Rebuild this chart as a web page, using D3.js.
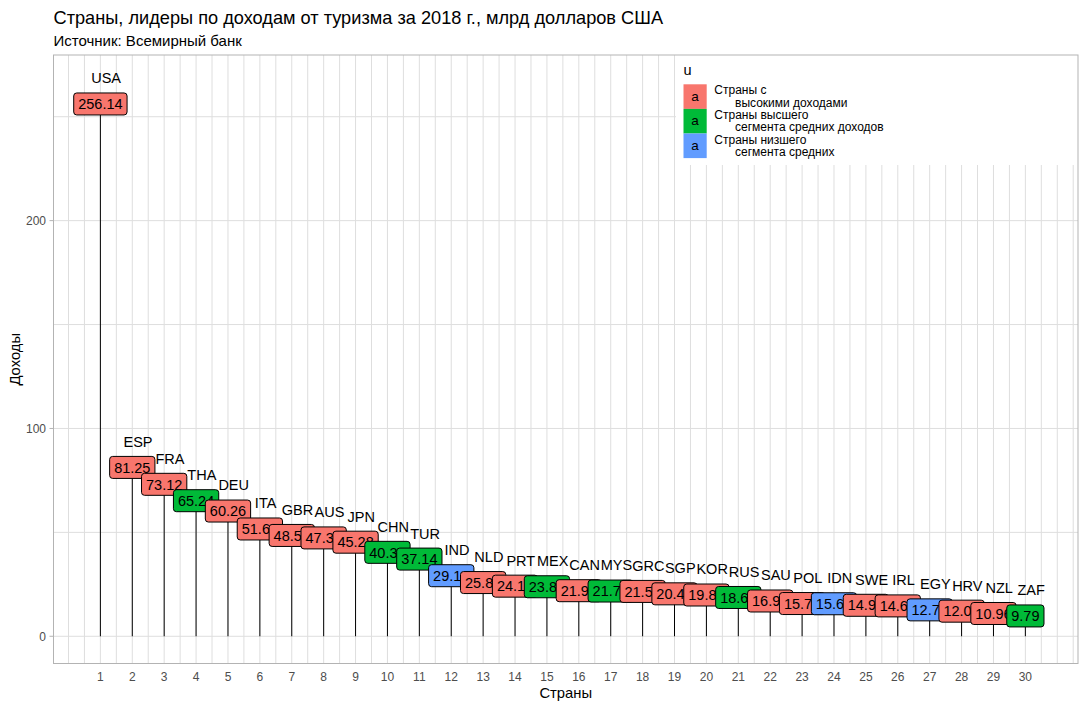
<!DOCTYPE html>
<html><head><meta charset="utf-8">
<script src="https://cdn.jsdelivr.net/npm/d3@7"></script>
<style>
body{margin:0;background:#fff;}
svg{display:block;font-family:"Liberation Sans",Arial,sans-serif;}
</style></head>
<body><svg id="c" width="1086" height="709"></svg>
<script>
const codes = ["USA","ESP","FRA","THA","DEU","ITA","GBR","AUS","JPN","CHN","TUR","IND","NLD","PRT","MEX","CAN","MYS","GRC","SGP","KOR","RUS","SAU","POL","IDN","SWE","IRL","EGY","HRV","NZL","ZAF"];
const values = [256.14,81.25,73.12,65.24,60.26,51.63,48.52,47.33,45.28,40.39,37.14,29.14,25.85,24.12,23.83,21.93,21.77,21.59,20.42,19.86,18.67,16.98,15.75,15.65,14.91,14.62,12.71,12.08,10.96,9.79];
const groupIdx = [0,0,0,1,0,0,0,0,0,1,1,2,0,0,1,0,1,0,0,0,1,0,0,2,0,0,2,0,0,1];
const groupLabels = [["Страны с","высокими доходами"],["Страны высшего","сегмента средних доходов"],["Страны низшего","сегмента средних"]];
const groupColors = ["#F8766D","#00BA38","#619CFF"];
const xTicks = [1,2,3,4,5,6,7,8,9,10,11,12,13,14,15,16,17,18,19,20,21,22,23,24,25,26,27,28,29,30];
const yTicks = [0,100,200];
const yMinor = [50,150,250];
const title = "Страны, лидеры по доходам от туризма за 2018 г., млрд долларов США";
const subtitle = "Источник: Всемирный банк";

const svg = d3.select("#c");
const P = {l:53.5, r:1078, t:55, b:663.5};
const x = d3.scaleLinear().domain([-0.47, 31.65]).range([P.l, P.r]);
const y = d3.scaleLinear().domain([-13.1, 279.7]).range([P.b, P.t]);

// grid
const vgrid = d3.range(0, 31.6, 0.5);
svg.append("g").selectAll("line").data(vgrid).join("line")
  .attr("x1", d=>x(d)).attr("x2", d=>x(d)).attr("y1", P.t).attr("y2", P.b)
  .attr("stroke", "#DEDEDE").attr("stroke-width", 1);
svg.append("g").selectAll("line").data(yTicks.concat(yMinor)).join("line")
  .attr("x1", P.l).attr("x2", P.r).attr("y1", d=>y(d)).attr("y2", d=>y(d))
  .attr("stroke", "#DEDEDE").attr("stroke-width", 1);

// stems
const data = codes.map((c,i)=>({code:c, v:values[i], g:groupIdx[i], i:i+1}));
svg.append("g").selectAll("line").data(data).join("line")
  .attr("x1", d=>x(d.i)).attr("x2", d=>x(d.i)).attr("y1", y(0)).attr("y2", d=>y(d.v))
  .attr("stroke", "#000").attr("stroke-width", 1);

// labels
const lg = svg.append("g");
data.forEach(d=>{
  const g = lg.append("g");
  const t = g.append("text").attr("x", x(d.i)).attr("y", y(d.v)+5.2)
    .attr("text-anchor","middle").attr("font-size", 14.5).attr("fill","#000")
    .text(d.v.toFixed(2));
  const w = t.node().getComputedTextLength() + 9;
  g.insert("rect","text").attr("x", x(d.i)-w/2).attr("y", y(d.v)-11)
    .attr("width", w).attr("height", 22).attr("rx", 3).attr("ry", 3)
    .attr("fill", groupColors[d.g]).attr("stroke", "#000").attr("stroke-width", 1);
});

// country codes
svg.append("g").selectAll("text").data(data).join("text")
  .attr("x", d=>x(d.i + 0.18)).attr("y", d=>y(d.v + 12.4)+5.2)
  .attr("text-anchor","middle").attr("font-size", 14.5).attr("fill","#000")
  .text(d=>d.code);

// legend
const L = svg.append("g");
L.append("rect").attr("x", 676).attr("y", P.t).attr("width", P.r-676).attr("height", 110).attr("fill","#fff");
L.append("text").attr("x", 683.5).attr("y", 74.5).attr("font-size", 14.5).text("u");
groupLabels.forEach((lab, k)=>{
  const ky = 84.3 + k*24.6;
  L.append("rect").attr("x", 683.5).attr("y", ky).attr("width", 23.2).attr("height", 24.6).attr("fill", groupColors[k]);
  L.append("text").attr("x", 695.1).attr("y", ky+16.5).attr("text-anchor","middle").attr("font-size", 13.5).text("a");
  L.append("text").attr("x", 714.3).attr("y", ky+10).attr("font-size", 12).text(lab[0]);
  L.append("text").attr("x", 735).attr("y", ky+22.4).attr("font-size", 12).text(lab[1]);
});

// panel border
svg.append("rect").attr("x", P.l).attr("y", P.t).attr("width", P.r-P.l).attr("height", P.b-P.t)
  .attr("fill","none").attr("stroke","#B3B3B3").attr("stroke-width",1);

// axes
svg.append("g").selectAll("line").data(yTicks).join("line")
  .attr("x1", P.l-4).attr("x2", P.l).attr("y1", d=>y(d)).attr("y2", d=>y(d))
  .attr("stroke","#B3B3B3");
svg.append("g").selectAll("text").data(yTicks).join("text")
  .attr("x", P.l-7.5).attr("y", d=>y(d)+4.3).attr("text-anchor","end")
  .attr("font-size", 12).attr("fill","#4D4D4D").text(d=>d);
svg.append("g").selectAll("text").data(xTicks).join("text")
  .attr("x", d=>x(d)).attr("y", 681).attr("text-anchor","middle")
  .attr("font-size", 12).attr("fill","#4D4D4D").text(d=>d);

svg.append("text").attr("x", (P.l+P.r)/2).attr("y", 698).attr("text-anchor","middle")
  .attr("font-size", 14.8).text("Страны");
svg.append("text").attr("transform", `translate(19.5,${(P.t+P.b)/2}) rotate(-90)`)
  .attr("text-anchor","middle").attr("font-size", 14.8).text("Доходы");

svg.append("text").attr("x", 53.5).attr("y", 24).attr("font-size", 18.2).text(title);
svg.append("text").attr("x", 53.5).attr("y", 45.5).attr("font-size", 15).text(subtitle);
</script></body></html>
